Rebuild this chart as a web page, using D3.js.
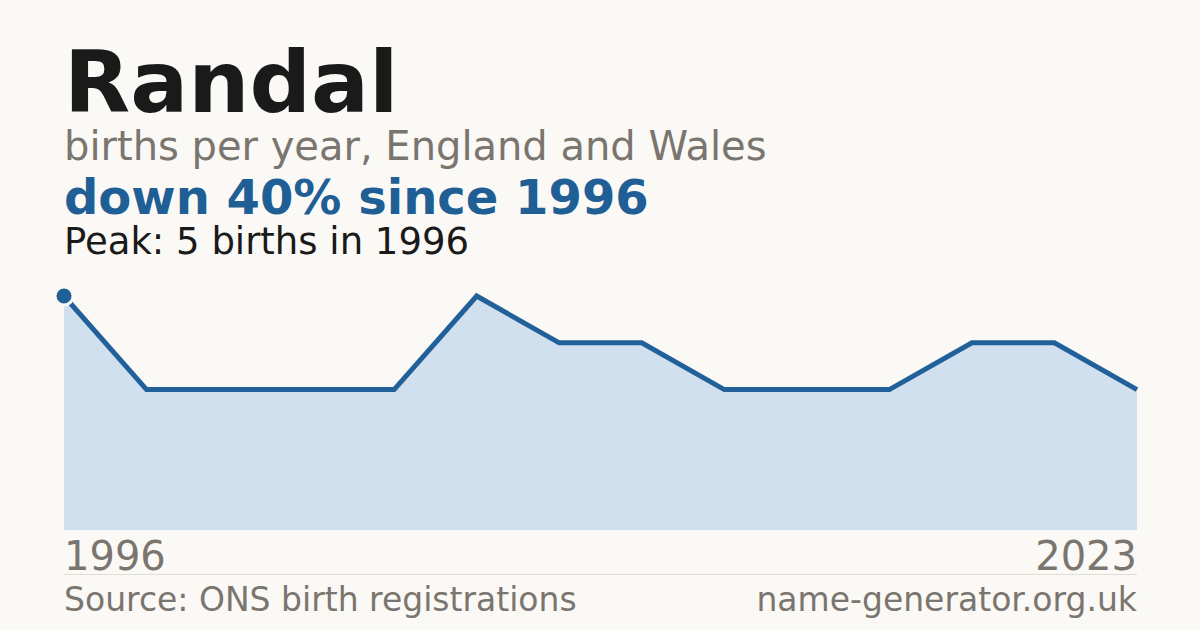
<!DOCTYPE html>
<html>
<head>
<meta charset="utf-8">
<script src="https://cdn.jsdelivr.net/npm/d3@7"></script>
<style>
  html, body { margin: 0; padding: 0; background: #faf9f5; }
  svg { display: block; font-family: "DejaVu Sans", sans-serif; }
</style>
</head>
<body>
<svg id="chart"></svg>
<script>
// births per year, in order of registration (one entry per recorded year)
const years = [1996, 1998, 2000, 2003, 2005, 2007, 2009, 2011, 2013, 2015, 2017, 2019, 2021, 2023];
const births = [5, 3, 3, 3, 3, 5, 4, 4, 3, 3, 3, 4, 4, 3];
const axisLabels = ["1996", "2023"];

const title = "Randal";
const subtitle = "births per year, England and Wales";
const headline = "down 40% since 1996";
const peakNote = "Peak: 5 births in 1996";
const source = "Source: ONS birth registrations";
const site = "name-generator.org.uk";

const width = 1200, height = 630;
const margin = { left: 64, right: 63, top: 296, bottom: 100 };

const svg = d3.select("#chart")
    .attr("width", width)
    .attr("height", height)
    .attr("viewBox", [0, 0, width, height]);

svg.append("rect")
    .attr("width", width)
    .attr("height", height)
    .attr("fill", "#faf9f5");

const data = years.map((y, i) => ({ year: y, value: births[i] }));

const x = d3.scalePoint()
    .domain(years)
    .range([margin.left, width - margin.right]);

const y = d3.scaleLinear()
    .domain([0, d3.max(births)])
    .range([height - margin.bottom, margin.top]);

// headings
svg.append("text")
    .attr("x", 64).attr("y", 112)
    .attr("font-size", 86).attr("font-weight", "bold")
    .attr("fill", "#1a1a1a")
    .text(title);

svg.append("text")
    .attr("x", 64).attr("y", 160)
    .attr("font-size", 40)
    .attr("fill", "#7a756e")
    .text(subtitle);

svg.append("text")
    .attr("x", 64).attr("y", 214)
    .attr("font-size", 48).attr("font-weight", "bold")
    .attr("fill", "#1f5f96")
    .text(headline);

svg.append("text")
    .attr("x", 64).attr("y", 254)
    .attr("font-size", 37)
    .attr("fill", "#1a1a1a")
    .text(peakNote);

// area + line
const area = d3.area()
    .x(d => x(d.year))
    .y0(y(0))
    .y1(d => y(d.value));

const line = d3.line()
    .x(d => x(d.year))
    .y(d => y(d.value));

svg.append("path")
    .datum(data)
    .attr("d", area)
    .attr("fill", "#d0e0ef");

svg.append("path")
    .datum(data)
    .attr("d", line)
    .attr("fill", "none")
    .attr("stroke", "#22609a")
    .attr("stroke-width", 5);

// peak marker
svg.append("circle")
    .attr("cx", x(data[0].year))
    .attr("cy", y(data[0].value))
    .attr("r", 9)
    .attr("fill", "#1f5f96")
    .attr("stroke", "#faf9f5")
    .attr("stroke-width", 3);

// first / last year labels
svg.append("text")
    .attr("x", x(years[0])).attr("y", 570)
    .attr("font-size", 40)
    .attr("fill", "#7a756e")
    .text(axisLabels[0]);

svg.append("text")
    .attr("x", x(years[years.length - 1])).attr("y", 570)
    .attr("text-anchor", "end")
    .attr("font-size", 40)
    .attr("fill", "#7a756e")
    .text(axisLabels[1]);

// footer
svg.append("line")
    .attr("x1", 64).attr("x2", width - margin.right)
    .attr("y1", 574.5).attr("y2", 574.5)
    .attr("stroke", "#e0ddd5")
    .attr("stroke-width", 1);

svg.append("text")
    .attr("x", 64).attr("y", 611)
    .attr("font-size", 33)
    .attr("fill", "#7a756e")
    .text(source);

svg.append("text")
    .attr("x", width - margin.right).attr("y", 611)
    .attr("text-anchor", "end")
    .attr("font-size", 33)
    .attr("fill", "#7a756e")
    .text(site);
</script>
</body>
</html>
